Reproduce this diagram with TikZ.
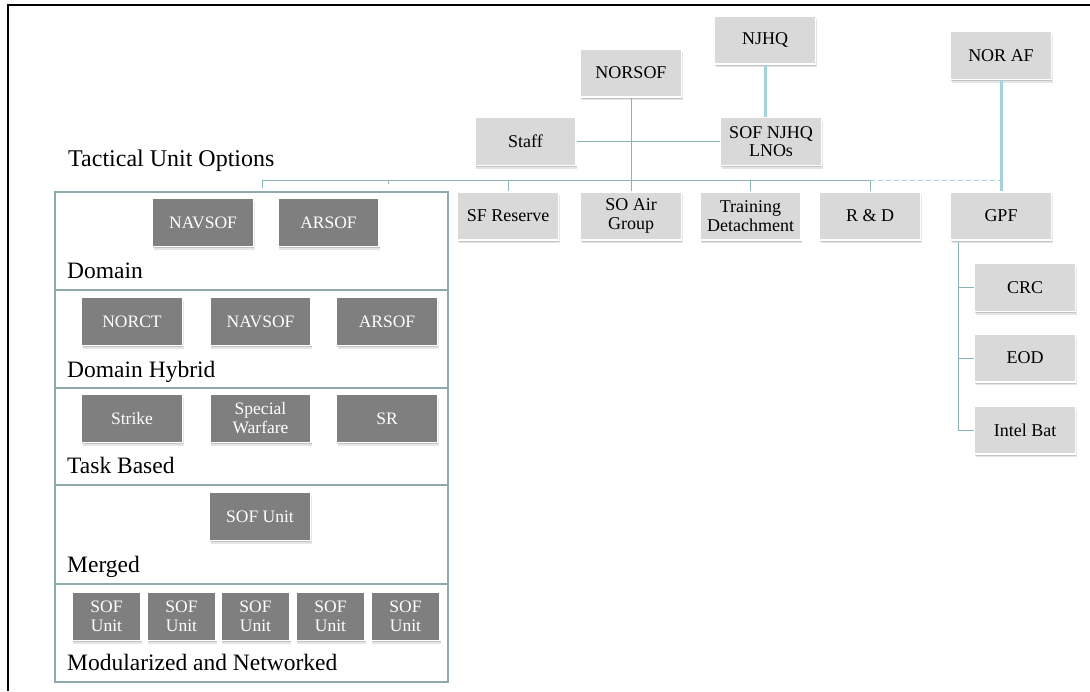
\documentclass[tikz,border=0pt]{standalone}
\usepackage{fontspec}
\setmainfont{Liberation Serif}
\usetikzlibrary{shadows,calc}
\definecolor{lgray}{HTML}{D9D9D9}
\definecolor{dgray}{HTML}{7F7F7F}
\definecolor{conncol}{HTML}{8CB3B4}
\definecolor{thickcol}{HTML}{A3D2D9}
\definecolor{panelcol}{HTML}{8EA9AB}
\begin{document}
\begin{tikzpicture}[x=1pt,y=-1pt,
  lbox/.style={rectangle, fill=lgray, draw=white, line width=1.8pt,
    minimum width=101pt, minimum height=48pt, inner sep=1pt, align=center,
    font=\fontsize{18}{18.5}\selectfont,
    drop shadow={shadow xshift=1pt, shadow yshift=-3pt, opacity=0.10, fill=black},
    drop shadow={shadow xshift=0.6pt, shadow yshift=-1.8pt, opacity=0.15, fill=black}},
  dbox/.style={lbox, fill=dgray, text=white, font=\fontsize{17.5}{19}\selectfont},
  sbox/.style={dbox, minimum width=69pt},
  conn/.style={draw=conncol, line width=1pt},
  thickline/.style={draw=thickcol, line width=3pt},
  dashline/.style={draw=thickcol, line width=1pt, dash pattern=on 5pt off 3pt},
  panel/.style={draw=panelcol, line width=2.6pt},
  lab/.style={anchor=base west, inner sep=0pt, font=\fontsize{23.5}{24}\selectfont},
  frame/.style={draw=black, line width=1.1pt}]
\useasboundingbox (0,0) rectangle (1090,691);
% frame
\coordinate (fTL) at (8,5);
\coordinate (fTR) at (1090,5);
\coordinate (fBL) at (8,691);
\draw[frame] (fTR) -- (fTL) -- (fBL);

% top hierarchy
\node[lbox] (njhq) at (765,40) {NJHQ};
\node[lbox] (norsof) at (631,73) {NORSOF};
\node[lbox] (noraf) at (1001,55.5) {NOR AF};
\node[lbox] (staff) at (525.5,141.5) {Staff};
\node[lbox] (lnos) at (771,141.5) {SOF NJHQ\\LNOs};

\node[lbox] (sfr) at (508,216) {SF Reserve};
\node[lbox] (soair) at (631,216) {SO Air\\Group};
\node[lbox] (train) at (750.5,216) {Training\\Detachment};
\node[lbox] (rd) at (870,216) {R \& D};
\node[lbox] (gpf) at (1001,216) {GPF};

\node[lbox] (crc) at (1025,287.5) {CRC};
\node[lbox] (eod) at (1025,358) {EOD};
\node[lbox] (intel) at (1025,430) {Intel Bat};

% connectors
\coordinate (busL) at (262,180);
\coordinate (busR) at (870,180);
\coordinate (busD) at (1001,180);
\coordinate (tk) at (388,180);
\draw[conn] (norsof.south) -- (soair.north);
\draw[conn] (staff.east) -- (lnos.west);
\draw[conn] ($(busL)+(0,8)$) -- (busL) -- (busR);
\draw[conn] (tk) -- ++(0,4);
\draw[conn] (sfr.north) -- (sfr.north |- busL);
\draw[conn] (train.north) -- (train.north |- busL);
\draw[conn] (rd.north) -- (rd.north |- busL);
\draw[dashline] (busR) -- (busD);
\draw[thickline] (njhq.south) -- (njhq.south |- lnos.north);
\draw[thickline] (noraf.south) -- (gpf.north);
\coordinate (gv) at ($(gpf.south west)+(9,1)$);
\draw[conn] (gv) |- (intel.west);
\draw[conn] (gv |- crc.west) -- (crc.west);
\draw[conn] (gv |- eod.west) -- (eod.west);

% tactical unit options
\node[lab, font=\fontsize{24}{24}\selectfont] (tuo) at (68,166) {Tactical Unit Options};

\draw[panel] (55,192) rectangle (448,290);
\draw[panel] (55,290) rectangle (448,388);
\draw[panel] (55,388) rectangle (448,485);
\draw[panel] (55,485) rectangle (448,584);
\draw[panel] (55,584) rectangle (448,682);

% Domain
\node[dbox] (d1) at (203,222.5) {NAVSOF};
\node[dbox] (d2) at (328.5,222.5) {ARSOF};
\node[lab] (ldom) at (67,278) {Domain};
% Domain Hybrid
\node[dbox] (h1) at (132,321.5) {NORCT};
\node[dbox] (h2) at (260.5,321.5) {NAVSOF};
\node[dbox] (h3) at (387,321.5) {ARSOF};
\node[lab] (lhyb) at (67,377) {Domain Hybrid};
% Task Based
\node[dbox] (t1) at (132,418.5) {Strike};
\node[dbox] (t2) at (260.5,418.5) {Special\\Warfare};
\node[dbox] (t3) at (387,418.5) {SR};
\node[lab] (ltask) at (67,473) {Task Based};
% Merged
\node[dbox] (m1) at (260,516.5) {SOF Unit};
\node[lab] (lmer) at (67,572) {Merged};
% Modularized
\node[sbox] (n1) at (106.5,616.5) {SOF\\Unit};
\node[sbox] (n2) at (181.5,616.5) {SOF\\Unit};
\node[sbox] (n3) at (255.5,616.5) {SOF\\Unit};
\node[sbox] (n4) at (330.5,616.5) {SOF\\Unit};
\node[sbox] (n5) at (405.5,616.5) {SOF\\Unit};
\node[lab] (lmod) at (67,670) {Modularized and Networked};
\end{tikzpicture}
\end{document}
